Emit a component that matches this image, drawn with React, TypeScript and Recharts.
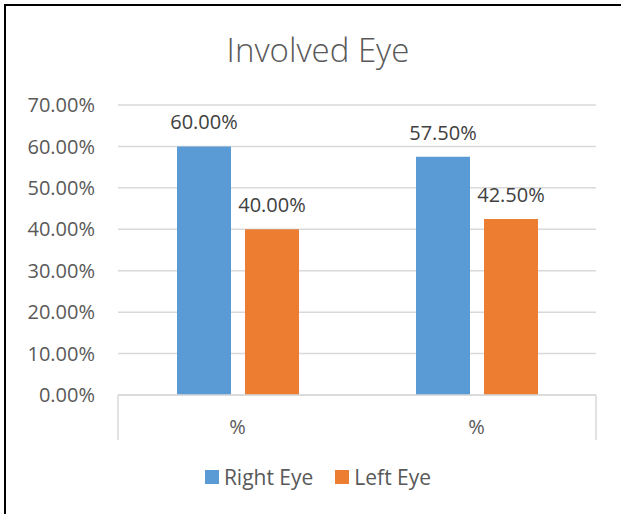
import { BarChart, Bar, XAxis, YAxis, CartesianGrid, Legend, LabelList, usePlotArea } from 'recharts';

const categories = ['%', '%'];
const rightEye = [60, 57.5];
const leftEye = [40, 42.5];
const yTicks = [0, 10, 20, 30, 40, 50, 60, 70];
const seriesOrder = ['Right Eye', 'Left Eye'];

const data = categories.map((name, i) => ({
  name,
  right: rightEye[i],
  left: leftEye[i],
}));

const FONT = '"Open Sans", "DejaVu Sans", sans-serif';
const W = 636;
const H = 514;

const pct = (v: number) => `${v.toFixed(2)}%`;

// Excel draws the category box edges below the plot area
function CategoryFrame() {
  const area = usePlotArea ? usePlotArea() : undefined;
  if (!area) return null;
  const bottom = area.y + area.height;
  return (
    <g>
      <line x1={area.x} x2={area.x} y1={bottom} y2={bottom + 45} stroke="#d9d9d9" strokeWidth={1.5} />
      <line
        x1={area.x + area.width}
        x2={area.x + area.width}
        y1={bottom}
        y2={bottom + 45}
        stroke="#d9d9d9"
        strokeWidth={1.5}
      />
    </g>
  );
}

function LegendContent({ payload }: any) {
  const items = [...(payload || [])].sort(
    (a: any, b: any) => seriesOrder.indexOf(a.value) - seriesOrder.indexOf(b.value)
  );
  return (
    <div
      style={{
        display: 'flex',
        justifyContent: 'center',
        alignItems: 'center',
        gap: 22,
        height: 30,
        fontFamily: FONT,
        fontSize: 21,
        color: '#595959',
      }}
    >
      {items.map((p: any) => (
        <div key={p.value} style={{ display: 'flex', alignItems: 'center', gap: 5 }}>
          <span style={{ width: 14, height: 14, background: p.color, display: 'inline-block' }} />
          <span>{p.value}</span>
        </div>
      ))}
    </div>
  );
}

export default function App() {
  return (
    <div
      style={{
        position: 'absolute',
        left: 0,
        top: 0,
        width: 621,
        height: 514,
        overflow: 'hidden',
        background: '#fff',
      }}
    >
      <div
        style={{
          position: 'absolute',
          left: 4,
          top: 4,
          width: 700,
          height: 600,
          borderLeft: '2px solid #000',
          borderTop: '2px solid #000',
        }}
      />
      <div
        style={{
          position: 'absolute',
          left: 0,
          top: 33,
          width: W,
          textAlign: 'center',
          fontFamily: FONT,
          fontSize: 33,
          lineHeight: '33px',
          fontWeight: 300,
          color: '#595959',
        }}
      >
        Involved Eye
      </div>
      <div style={{ position: 'absolute', left: 0, top: 0 }}>
        <BarChart
          width={W}
          height={H}
          data={data}
          margin={{ top: 105, right: 40, left: 0, bottom: 22 }}
          barSize={54}
          barGap={14}
        >
          <CartesianGrid vertical={false} stroke="#d9d9d9" strokeWidth={1.5} />
          <XAxis
            dataKey="name"
            height={67}
            axisLine={{ stroke: '#d9d9d9', strokeWidth: 1.5 }}
            tickLine={false}
            tickSize={0}
            tickMargin={25}
            tick={{ fontFamily: FONT, fontSize: 20, fill: '#595959' }}
            interval={0}
          />
          <YAxis
            width={118}
            domain={[0, 70]}
            ticks={yTicks}
            tickFormatter={pct}
            axisLine={false}
            tickLine={false}
            tickSize={0}
            tickMargin={23}
            tick={{ fontFamily: FONT, fontSize: 20, fill: '#595959' }}
          />
          <Legend
            verticalAlign="bottom"
            wrapperStyle={{ left: 0, width: W }}
            content={<LegendContent />}
          />
          <Bar dataKey="right" name="Right Eye" fill="#5b9bd5" isAnimationActive={false}>
            <LabelList
              dataKey="right"
              position="top"
              offset={17}
              formatter={(v: any) => pct(Number(v))}
              style={{ fontFamily: FONT, fontSize: 20, fill: '#404040' }}
            />
          </Bar>
          <Bar dataKey="left" name="Left Eye" fill="#ed7d31" isAnimationActive={false}>
            <LabelList
              dataKey="left"
              position="top"
              offset={17}
              formatter={(v: any) => pct(Number(v))}
              style={{ fontFamily: FONT, fontSize: 20, fill: '#404040' }}
            />
          </Bar>
          <CategoryFrame />
        </BarChart>
      </div>
    </div>
  );
}
